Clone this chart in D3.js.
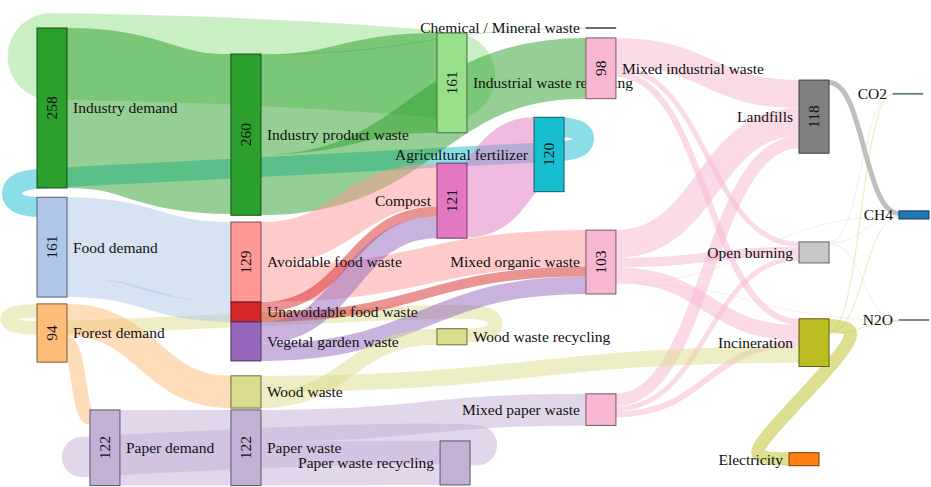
<!DOCTYPE html>
<html>
<head>
<meta charset="utf-8">
<script src="https://cdn.jsdelivr.net/npm/d3@7"></script>
<style>
  body { margin: 0; background: #fff; }
  svg { display: block; }
  svg text { font-family: "Liberation Serif", "DejaVu Serif", "Times New Roman", serif; }
</style>
</head>
<body>
<svg id="chart" width="931" height="487"></svg>
<script>
// ---- data ----
var nodeNames = [
  "Industry demand", "Food demand", "Forest demand", "Paper demand",
  "Industry product waste", "Avoidable food waste", "Unavoidable food waste",
  "Vegetal garden waste", "Wood waste", "Paper waste",
  "Chemical / Mineral waste", "Industrial waste recycling", "Compost",
  "Wood waste recycling", "Paper waste recycling", "Agricultural fertilizer",
  "Mixed industrial waste", "Mixed organic waste", "Mixed paper waste",
  "Landfills", "Open burning", "Incineration", "Electricity",
  "CO2", "CH4", "N2O"
];
var nodeValues = [258, 161, 94, 122, 260, 129, 32, 63, 52, 122,
  0, 161, 121, 26, 71, 120, 98, 103, 51, 118, 34, 77, 21, 0, 13, 0];

// source, target, value (order = stacking order inside the nodes)
var links = [
  ["Industrial waste recycling", "Industry demand", 140],
  ["Agricultural fertilizer", "Food demand", 32],
  ["Wood waste recycling", "Forest demand", 22],
  ["Industry demand", "Industry product waste", 258],
  ["Food demand", "Avoidable food waste", 129],
  ["Food demand", "Unavoidable food waste", 32],
  ["Forest demand", "Wood waste", 52],
  ["Forest demand", "Paper demand", 24],
  ["Paper waste recycling", "Paper demand", 65],
  ["Paper demand", "Paper waste", 122],
  ["Industry product waste", "Chemical / Mineral waste", 1],
  ["Industry product waste", "Industrial waste recycling", 161],
  ["Industry product waste", "Mixed industrial waste", 98],
  ["Avoidable food waste", "Compost", 70],
  ["Avoidable food waste", "Mixed organic waste", 59],
  ["Unavoidable food waste", "Compost", 16],
  ["Unavoidable food waste", "Mixed organic waste", 16],
  ["Vegetal garden waste", "Compost", 35],
  ["Vegetal garden waste", "Mixed organic waste", 28],
  ["Paper waste", "Mixed paper waste", 51],
  ["Paper waste", "Paper waste recycling", 71],
  ["Compost", "Agricultural fertilizer", 120],
  ["Landfills", "CH4", 8],
  ["Mixed industrial waste", "Landfills", 45],
  ["Mixed industrial waste", "Open burning", 8],
  ["Mixed industrial waste", "Incineration", 10],
  ["Mixed organic waste", "Landfills", 45],
  ["Mixed organic waste", "Open burning", 15],
  ["Mixed organic waste", "Incineration", 25],
  ["Mixed organic waste", "CH4", 1],
  ["Mixed organic waste", "N2O", 1],
  ["Mixed paper waste", "Landfills", 20],
  ["Mixed paper waste", "Open burning", 8],
  ["Mixed paper waste", "Incineration", 10],
  ["Wood waste", "Incineration", 26],
  ["Wood waste", "Wood waste recycling", 26],
  ["Incineration", "Electricity", 21],
  ["Incineration", "CO2", 1],
  ["Incineration", "CH4", 1],
  ["Incineration", "N2O", 1],
  ["Open burning", "CO2", 1],
  ["Open burning", "CH4", 1],
  ["Open burning", "N2O", 1]
];

// ---- layout (stage = horizontal step, top = vertical start in flow units) ----
var nodeStage = [0, 0, 0, 0.307, 1.125, 1.125, 1.125, 1.125, 1.125, 1.125,
  3.184, 2.32, 2.32, 2.32, 2.338, 2.883, 3.184, 3.184, 3.184,
  4.42, 4.42, 4.42, 4.362, 4.965, 5, 5];
var nodeTop = [0, 273, 445, 616, 42, 313, 442, 474, 561, 616,
  0, 8, 218, 485, 666, 144, 16, 326, 590,
  84, 345, 469, 685, 106, 295, 471];
var leftLabels = ["Chemical / Mineral waste", "Compost", "Paper waste recycling",
  "Agricultural fertilizer", "Mixed organic waste", "Mixed paper waste",
  "Landfills", "Open burning", "Incineration", "Electricity", "CO2", "CH4", "N2O"];

// routes of the links that run backwards
var loopRoutes = [
  {link: "Industrial waste recycling>Industry demand", cap: true,
   via: [[2.407, 77], [1.99, 66], [0.945, 50], [0.081, 46]]},
  {link: "Agricultural fertilizer>Food demand", turnS: 3.184, turnT: -0.157,
   via: [[3.184, 200], [2.883, 200], [0.168, 242], [-0.157, 242]]},
  {link: "Wood waste recycling>Forest demand", turnS: 2.674, turnT: -0.186,
   via: [[2.674, 456], [2.32, 456], [0.168, 485], [-0.186, 485]]},
  {link: "Paper waste recycling>Paper demand", cap: true,
   via: [[2.552, 673], [2.222, 668], [0.945, 681], [0.261, 692]]},
  {link: "Incineration>Electricity", turnS: 4.733, turnT: 4.165,
   via: [[4.733, 511], [4.165, 673]]}
];

var palette = {
  "Industry demand": "#2ca02c", "Food demand": "#aec7e8", "Forest demand": "#ffbb78",
  "Paper demand": "#c5b0d5", "Industry product waste": "#2ca02c",
  "Avoidable food waste": "#ff9896", "Unavoidable food waste": "#d62728",
  "Vegetal garden waste": "#9467bd", "Wood waste": "#dbdb8d", "Paper waste": "#c5b0d5",
  "Chemical / Mineral waste": "#7f7f7f", "Industrial waste recycling": "#98df8a",
  "Compost": "#e377c2", "Wood waste recycling": "#dbdb8d",
  "Paper waste recycling": "#c5b0d5", "Agricultural fertilizer": "#17becf",
  "Mixed industrial waste": "#f7b6d2", "Mixed organic waste": "#f7b6d2",
  "Mixed paper waste": "#f7b6d2", "Landfills": "#7f7f7f", "Open burning": "#c7c7c7",
  "Incineration": "#bcbd22", "Electricity": "#ff7f0e", "CO2": "#9edae5",
  "CH4": "#1f77b4", "N2O": "#aec7e8"
};

// ---- drawing ----
var svg = d3.select('#chart');
var nodeWidth = 30;
var x = d3.scaleLinear().domain([0, 5]).range([37, 899]);
var y = d3.scaleLinear().domain([0, 737]).range([28, 28 + 737 * 0.62]);

var nodes = nodeNames.map(function(name, i) {
  return {
    name: name, value: nodeValues[i],
    x0: x(nodeStage[i]), x1: x(nodeStage[i]) + nodeWidth,
    y0: y(nodeTop[i]), y1: y(nodeTop[i] + nodeValues[i]),
    outY: 0, inY: 0
  };
});
var byName = {};
nodes.forEach(function(n) { byName[n.name] = n; });

var flows = links.map(function(l) {
  var s = byName[l[0]], t = byName[l[1]];
  var w = y(l[2]) - y(0);
  var f = {source: s, target: t, value: l[2], width: w,
    y0: s.y0 + s.outY + w / 2, y1: t.y0 + t.inY + w / 2};
  s.outY += w;
  t.inY += w;
  return f;
});

var routes = {};
loopRoutes.forEach(function(r) { routes[r.link] = r; });

var curve = d3.line().curve(d3.curveBasis);
var link = d3.linkHorizontal();

function loopPath(f, r) {
  var pts = r.via.map(function(p) { return [x(p[0]), y(p[1])]; });
  if (!r.cap) {
    var s = f.source, t = f.target;
    pts.unshift([x(r.turnS), f.y0]);
    pts.unshift([(s.x0 + s.x1) / 2, f.y0]);
    pts.push([x(r.turnT), f.y1]);
    pts.push([(t.x0 + t.x1) / 2, f.y1]);
  }
  return curve(pts);
}

svg.append('g')
  .attr('fill', 'none')
  .selectAll('path')
  .data(flows)
  .enter().append('path')
  .attr('d', function(f) {
    var r = routes[f.source.name + '>' + f.target.name];
    if (r) return loopPath(f, r);
    return link({source: [f.source.x1, f.y0], target: [f.target.x0, f.y1]});
  })
  .attr('stroke', function(f) { return palette[f.source.name]; })
  .attr('stroke-opacity', function(f) { return f.width < 1.5 ? 0.3 : 0.5; })
  .attr('stroke-linecap', function(f) {
    return routes[f.source.name + '>' + f.target.name] ? 'round' : 'butt';
  })
  .attr('stroke-width', function(f) { return Math.max(1, f.width); });

var node = svg.append('g')
  .selectAll('g')
  .data(nodes)
  .enter().append('g');

// zero-valued nodes are drawn as a thin line
node.append('rect')
  .attr('x', function(d) { return d.x0; })
  .attr('y', function(d) { return d.value ? d.y0 : d.y0 - 0.5; })
  .attr('width', nodeWidth)
  .attr('height', function(d) { return d.value ? d.y1 - d.y0 : 1; })
  .attr('fill', function(d) {
    return d.value ? palette[d.name] : d3.rgb(palette[d.name]).darker(2);
  })
  .attr('stroke', function(d) { return d3.rgb(palette[d.name]).darker(2); })
  .attr('stroke-width', function(d) { return d.value ? 1 : 0.5; });

node.filter(function(d) { return d.value >= 90; })
  .append('text')
  .attr('transform', function(d) {
    return 'translate(' + ((d.x0 + d.x1) / 2) + ',' + ((d.y0 + d.y1) / 2) + ') rotate(-90)';
  })
  .attr('dy', '0.35em')
  .attr('text-anchor', 'middle')
  .style('font-size', '15.5px')
  .attr('fill', '#111')
  .text(function(d) { return d.value; });

node.append('text')
  .attr('x', function(d) { return leftLabels.indexOf(d.name) >= 0 ? d.x0 - 6 : d.x1 + 6; })
  .attr('y', function(d) { return (d.y0 + d.y1) / 2; })
  .attr('dy', '0.35em')
  .attr('text-anchor', function(d) { return leftLabels.indexOf(d.name) >= 0 ? 'end' : 'start'; })
  .style('font-size', '15.5px')
  .attr('fill', '#111')
  .text(function(d) { return d.name; });
</script>
</body>
</html>
